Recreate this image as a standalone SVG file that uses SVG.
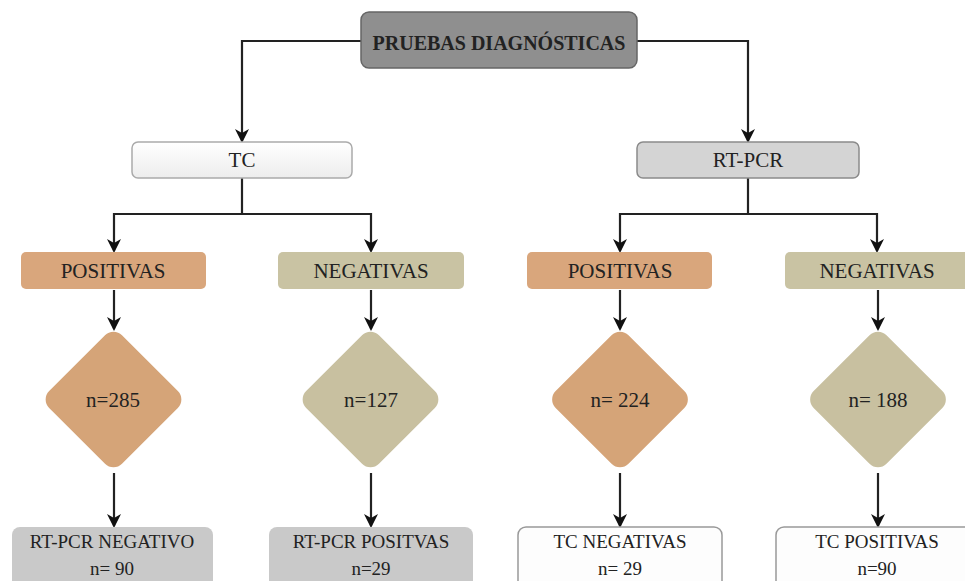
<svg xmlns="http://www.w3.org/2000/svg" width="965" height="581" viewBox="0 0 965 581">
<style>
text{font-family:"Liberation Serif","DejaVu Serif","Times New Roman",serif;fill:#222;text-anchor:middle}
.t{font-size:21px}
.b{font-size:19px}
.c{stroke:#222;stroke-width:2.2;fill:none}
.pos{fill:#d9a67c}
.neg{fill:#c9c3a3}
.dpos{fill:#d5a478}
.dneg{fill:#c8c0a0}
</style>
<defs>
<marker id="ah" markerWidth="14" markerHeight="14" refX="12" refY="7" orient="auto" markerUnits="userSpaceOnUse">
<path d="M0,0 L14,7 L0,14 L4,7 Z" fill="#111"/>
</marker>
<linearGradient id="gw" x1="0" y1="0" x2="0" y2="1">
<stop offset="0" stop-color="#ffffff"/><stop offset="1" stop-color="#ededed"/>
</linearGradient>
</defs>
<rect width="965" height="581" fill="#ffffff"/>
<g id="connectors">
<path class="c" d="M361,41 H242 V141" marker-end="url(#ah)"/>
<path class="c" d="M637,41 H748 V141" marker-end="url(#ah)"/>
<path class="c" d="M242,178 V214 H114 V251" marker-end="url(#ah)"/>
<path class="c" d="M242,214 H371 V251" marker-end="url(#ah)"/>
<path class="c" d="M748,178 V214 H620 V251" marker-end="url(#ah)"/>
<path class="c" d="M748,214 H877 V251" marker-end="url(#ah)"/>
<path class="c" d="M114,290 V329" marker-end="url(#ah)"/>
<path class="c" d="M371,290 V329" marker-end="url(#ah)"/>
<path class="c" d="M620,290 V329" marker-end="url(#ah)"/>
<path class="c" d="M878,290 V329" marker-end="url(#ah)"/>
<path class="c" d="M114,473 V526" marker-end="url(#ah)"/>
<path class="c" d="M371,473 V526" marker-end="url(#ah)"/>
<path class="c" d="M620,473 V526" marker-end="url(#ah)"/>
<path class="c" d="M878,473 V526" marker-end="url(#ah)"/>
</g>
<g id="pruebas">
<rect x="361" y="12" width="276" height="56" rx="8" fill="#8f8f8f" stroke="#666" stroke-width="1.5"/>
<text x="499" y="50" style="font-size:20px;font-weight:bold">PRUEBAS DIAGNÓSTICAS</text>
</g>
<g id="tc">
<rect x="132" y="142" width="220" height="36" rx="6" fill="url(#gw)" stroke="#aaa" stroke-width="1.5"/>
<text class="t" x="242" y="167">TC</text>
</g>
<g id="rtpcr">
<rect x="637" y="142" width="222" height="36" rx="6" fill="#d4d4d4" stroke="#8a8a8a" stroke-width="1.5"/>
<text class="t" x="748" y="167">RT-PCR</text>
</g>
<g id="tc-pos">
<rect class="pos" x="21" y="252" width="185" height="37" rx="5"/>
<text class="t" x="113" y="278">POSITIVAS</text>
</g>
<g id="tc-neg">
<rect class="neg" x="278" y="252" width="186" height="37" rx="5"/>
<text class="t" x="371" y="278">NEGATIVAS</text>
</g>
<g id="pcr-pos">
<rect class="pos" x="527" y="252" width="185" height="37" rx="5"/>
<text class="t" x="620" y="278">POSITIVAS</text>
</g>
<g id="pcr-neg">
<rect class="neg" x="785" y="252" width="190" height="37" rx="5"/>
<text class="t" x="877" y="278">NEGATIVAS</text>
</g>
<g id="d285">
<rect class="dpos" x="62" y="348" width="103" height="103" rx="12" transform="rotate(45 113.5 399.5)"/>
<text class="t" x="113" y="407">n=285</text>
</g>
<g id="d127">
<rect class="dneg" x="319" y="348" width="103" height="103" rx="12" transform="rotate(45 370.5 399.5)"/>
<text class="t" x="371" y="407">n=127</text>
</g>
<g id="d224">
<rect class="dpos" x="568.5" y="348" width="103" height="103" rx="12" transform="rotate(45 620 399.5)"/>
<text class="t" x="620" y="407">n= 224</text>
</g>
<g id="d188">
<rect class="dneg" x="826.5" y="348" width="103" height="103" rx="12" transform="rotate(45 878 399.5)"/>
<text class="t" x="878" y="407">n= 188</text>
</g>
<g id="b1">
<rect x="12" y="527" width="201" height="64" rx="8" fill="#c9c9c9"/>
<text class="b" x="112" y="548">RT-PCR NEGATIVO</text>
<text class="b" x="112" y="575">n= 90</text>
</g>
<g id="b2">
<rect x="269" y="527" width="204" height="64" rx="8" fill="#c9c9c9"/>
<text class="b" x="371" y="548">RT-PCR POSITVAS</text>
<text class="b" x="371" y="575">n=29</text>
</g>
<g id="b3">
<rect x="518" y="527" width="204" height="64" rx="8" fill="#fdfdfd" stroke="#999" stroke-width="1.5"/>
<text class="b" x="620" y="548">TC NEGATIVAS</text>
<text class="b" x="620" y="575">n= 29</text>
</g>
<g id="b4">
<rect x="776" y="527" width="204" height="64" rx="8" fill="#fdfdfd" stroke="#999" stroke-width="1.5"/>
<text class="b" x="877" y="548">TC POSITIVAS</text>
<text class="b" x="877" y="575">n=90</text>
</g>
</svg>
